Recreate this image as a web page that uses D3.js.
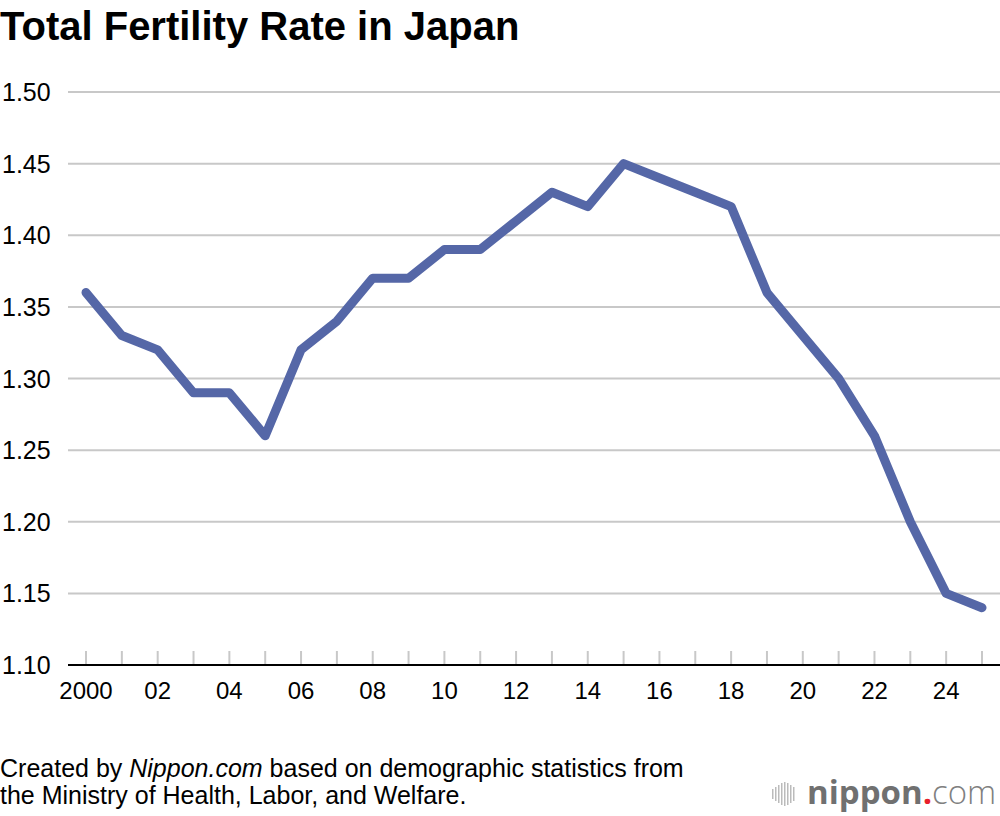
<!DOCTYPE html>
<html>
<head>
<meta charset="utf-8">
<script src="https://cdn.jsdelivr.net/npm/d3@7"></script>
<style>
  body { margin: 0; background: #fff; }
  svg { display: block; font-family: "Liberation Sans", Arial, sans-serif; }
</style>
</head>
<body>
<div id="chart"></div>
<script>
// data
const years = [2000, 2001, 2002, 2003, 2004, 2005, 2006, 2007, 2008, 2009, 2010, 2011, 2012,
               2013, 2014, 2015, 2016, 2017, 2018, 2019, 2020, 2021, 2022, 2023, 2024, 2025];
const rates = [1.36, 1.33, 1.32, 1.29, 1.29, 1.26, 1.32, 1.34, 1.37, 1.37, 1.39, 1.39, 1.41,
               1.43, 1.42, 1.45, 1.44, 1.43, 1.42, 1.36, 1.33, 1.30, 1.26, 1.20, 1.15, 1.14];
const yTicks = [1.10, 1.15, 1.20, 1.25, 1.30, 1.35, 1.40, 1.45, 1.50];
const xLabelYears = [2000, 2002, 2004, 2006, 2008, 2010, 2012, 2014, 2016, 2018, 2020, 2022, 2024];

const width = 1000, height = 816;
const margin = { top: 92, right: 18, bottom: 151, left: 86 };

const x = d3.scaleLinear().domain([2000, 2025]).range([margin.left, width - margin.right]);
const y = d3.scaleLinear().domain([1.10, 1.50]).range([height - margin.bottom, margin.top]);

const svg = d3.select("#chart").append("svg")
    .attr("width", width)
    .attr("height", height);

// title
svg.append("text")
    .attr("x", 0)
    .attr("y", 40)
    .style("font-size", "40px")
    .style("font-weight", "bold")
    .attr("fill", "#000")
    .text("Total Fertility Rate in Japan");

// grid lines + y labels
svg.append("g").selectAll("line")
    .data(yTicks.slice(1))
    .join("line")
    .attr("x1", 68)
    .attr("x2", width)
    .attr("y1", d => y(d))
    .attr("y2", d => y(d))
    .attr("stroke", "#c8c8c8")
    .attr("stroke-width", 2);

svg.append("g").selectAll("text")
    .data(yTicks)
    .join("text")
    .attr("x", 2)
    .attr("y", d => y(d))
    .attr("dy", "0.36em")
    .style("font-size", "25px")
    .attr("fill", "#000")
    .text(d => d3.format(".2f")(d));

// x tick marks
svg.append("g").selectAll("line")
    .data(years)
    .join("line")
    .attr("x1", d => x(d))
    .attr("x2", d => x(d))
    .attr("y1", y(1.10) - 14)
    .attr("y2", y(1.10))
    .attr("stroke", "#c8c8c8")
    .attr("stroke-width", 2);

// baseline
svg.append("line")
    .attr("x1", 68)
    .attr("x2", width)
    .attr("y1", y(1.10))
    .attr("y2", y(1.10))
    .attr("stroke", "#000")
    .attr("stroke-width", 2);

// x labels
svg.append("g").selectAll("text")
    .data(xLabelYears)
    .join("text")
    .attr("x", d => x(d))
    .attr("y", y(1.10) + 34)
    .attr("text-anchor", "middle")
    .style("font-size", "24px")
    .attr("fill", "#000")
    .text(d => d === 2000 ? "2000" : d3.format("02d")(d % 100));

// the line
const line = d3.line()
    .x((d, i) => x(years[i]))
    .y(d => y(d));

svg.append("path")
    .datum(rates)
    .attr("d", line)
    .attr("fill", "none")
    .attr("stroke", "#5567a7")
    .attr("stroke-width", 9)
    .attr("stroke-linejoin", "round")
    .attr("stroke-linecap", "round");

// source note
const note = svg.append("text")
    .attr("x", 0)
    .attr("y", 777)
    .style("font-size", "25px")
    .attr("fill", "#000");
note.append("tspan").text("Created by ");
note.append("tspan").style("font-style", "italic").text("Nippon.com");
note.append("tspan").text(" based on demographic statistics from");

svg.append("text")
    .attr("x", 0)
    .attr("y", 804)
    .style("font-size", "25px")
    .attr("fill", "#000")
    .text("the Ministry of Health, Labor, and Welfare.");

// logo
const logo = svg.append("g");
const barHeights = [10, 14, 18, 22, 24, 22, 18, 14];
logo.selectAll("rect")
    .data(barHeights)
    .join("rect")
    .attr("x", (d, i) => 772 + i * 3)
    .attr("y", d => 794 - d / 2)
    .attr("width", 1.5)
    .attr("height", d => d)
    .attr("fill", "#bbb");

const brand = logo.append("text")
    .attr("x", 807)
    .attr("y", 804)
    .style("font-family", "'Open Sans', sans-serif")
    .style("font-size", "33px");
brand.append("tspan").attr("fill", "#707070").style("font-weight", "bold").text("nippon");
brand.append("tspan").attr("fill", "#e8202a").style("font-weight", "bold").text(".");
brand.append("tspan").attr("fill", "#808080").style("font-weight", "300").text("com");
</script>
</body>
</html>
